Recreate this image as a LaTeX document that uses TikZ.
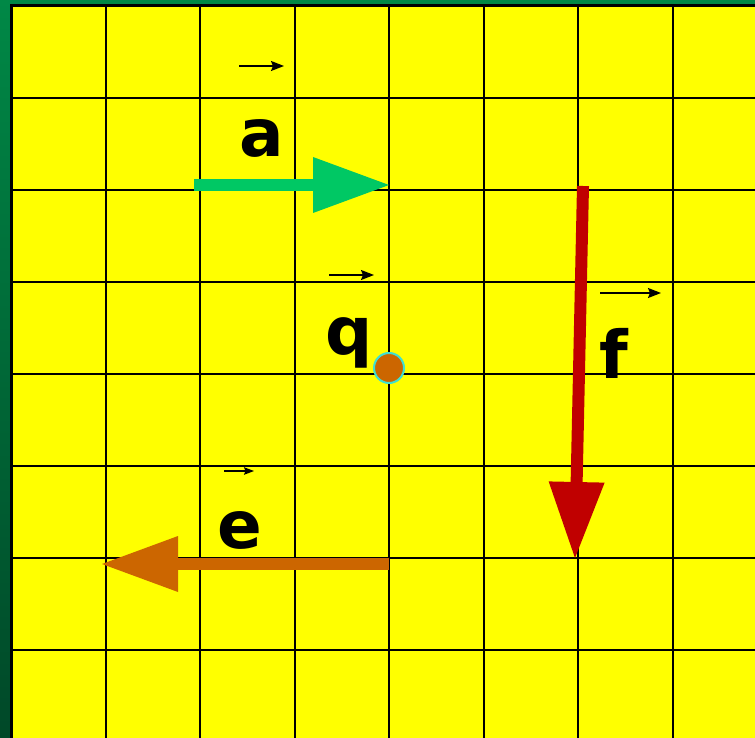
\documentclass[tikz,border=0pt]{standalone}
\usepackage{fontspec}
\setmainfont{DejaVu Sans}
\usetikzlibrary{arrows.meta,positioning}
\definecolor{cellyellow}{RGB}{255,255,0}
\definecolor{stripgreen}{RGB}{0,136,70}
\definecolor{stripdark}{RGB}{0,72,40}
\definecolor{vecgreen}{RGB}{0,200,100}
\definecolor{vecred}{RGB}{192,0,0}
\definecolor{vecorange}{RGB}{204,102,0}
\definecolor{ringcyan}{RGB}{64,224,208}
\tikzset{
  % grid
  gridline/.style={line width=2pt,black},
  borderline/.style={line width=3pt,black},
  % big force vectors
  bigvec/.style={line width=12pt,-{Triangle[length=76pt,width=56pt,line width=0pt]}},
  % little vector marks above the letters
  tinyvec/.style={line width=1.5pt,-{Stealth[length=13pt,width=10pt,inset=2pt]}},
  tinyvecs/.style={line width=1.3pt,-{Stealth[length=10pt,width=7.5pt,inset=1.5pt]}},
  lbl/.style={font=\bfseries\fontsize{66}{66}\selectfont,inner sep=0pt,anchor=base},
  charge/.style={circle,draw=ringcyan,fill=vecorange,line width=2pt,minimum size=30pt,inner sep=0pt},
}

\begin{document}
\begin{tikzpicture}[x=1pt,y=-1pt]
\useasboundingbox (0,0) rectangle (755,738);
%% grid spacing
\def\dx{94.5}
\def\dy{92}

% background
\fill[cellyellow] (0,0) rectangle (755,738);
\shade[top color=stripgreen,bottom color=stripdark] (0,0) rectangle (10,738);
\fill[stripgreen] (10,0) rectangle (755,5);

%% grid lines
\foreach \i in {1,...,7}
  \draw[gridline] ({11+\i*\dx},6) -- ({11+\i*\dx},738);
\foreach \j in {1,...,7}
  \draw[gridline] (11,{6+\j*\dy}) -- (755,{6+\j*\dy});
\draw[borderline] (11,738) -- (11,6) -- (755,6);

%% point q
\node[charge] (q) at (389,368) {};

%% vectors
\coordinate (a0) at (194,185);
\coordinate (a1) at (389,185);
\draw[bigvec,vecgreen] (a0) -- (a1);

\coordinate (f0) at (583,186);
\coordinate (f1) at (575,558);
\draw[bigvec,vecred] (f0) -- (f1);

\coordinate (e0) at (389,564);
\coordinate (e1) at (102,564);
\draw[bigvec,vecorange] (e0) -- (e1);

%% letters
\node[lbl] (la) at (262,157) {a};
\node[lbl] (lq) at (349,354) {q};
\node[lbl] (lf) at (614,378) {f};
\node[lbl] (le) at (240,548) {e};

%% vector marks
\coordinate (ma0) at (239,66);  \coordinate (ma1) at (284,66);
\coordinate (mq0) at (329,275); \coordinate (mq1) at (374,275);
\coordinate (mf0) at (600,293); \coordinate (mf1) at (661,293);
\coordinate (me0) at (224,471); \coordinate (me1) at (254,471);
\draw[tinyvec] (ma0) -- (ma1);
\draw[tinyvec] (mq0) -- (mq1);
\draw[tinyvec] (mf0) -- (mf1);
\draw[tinyvecs] (me0) -- (me1);
\end{tikzpicture}
\end{document}
